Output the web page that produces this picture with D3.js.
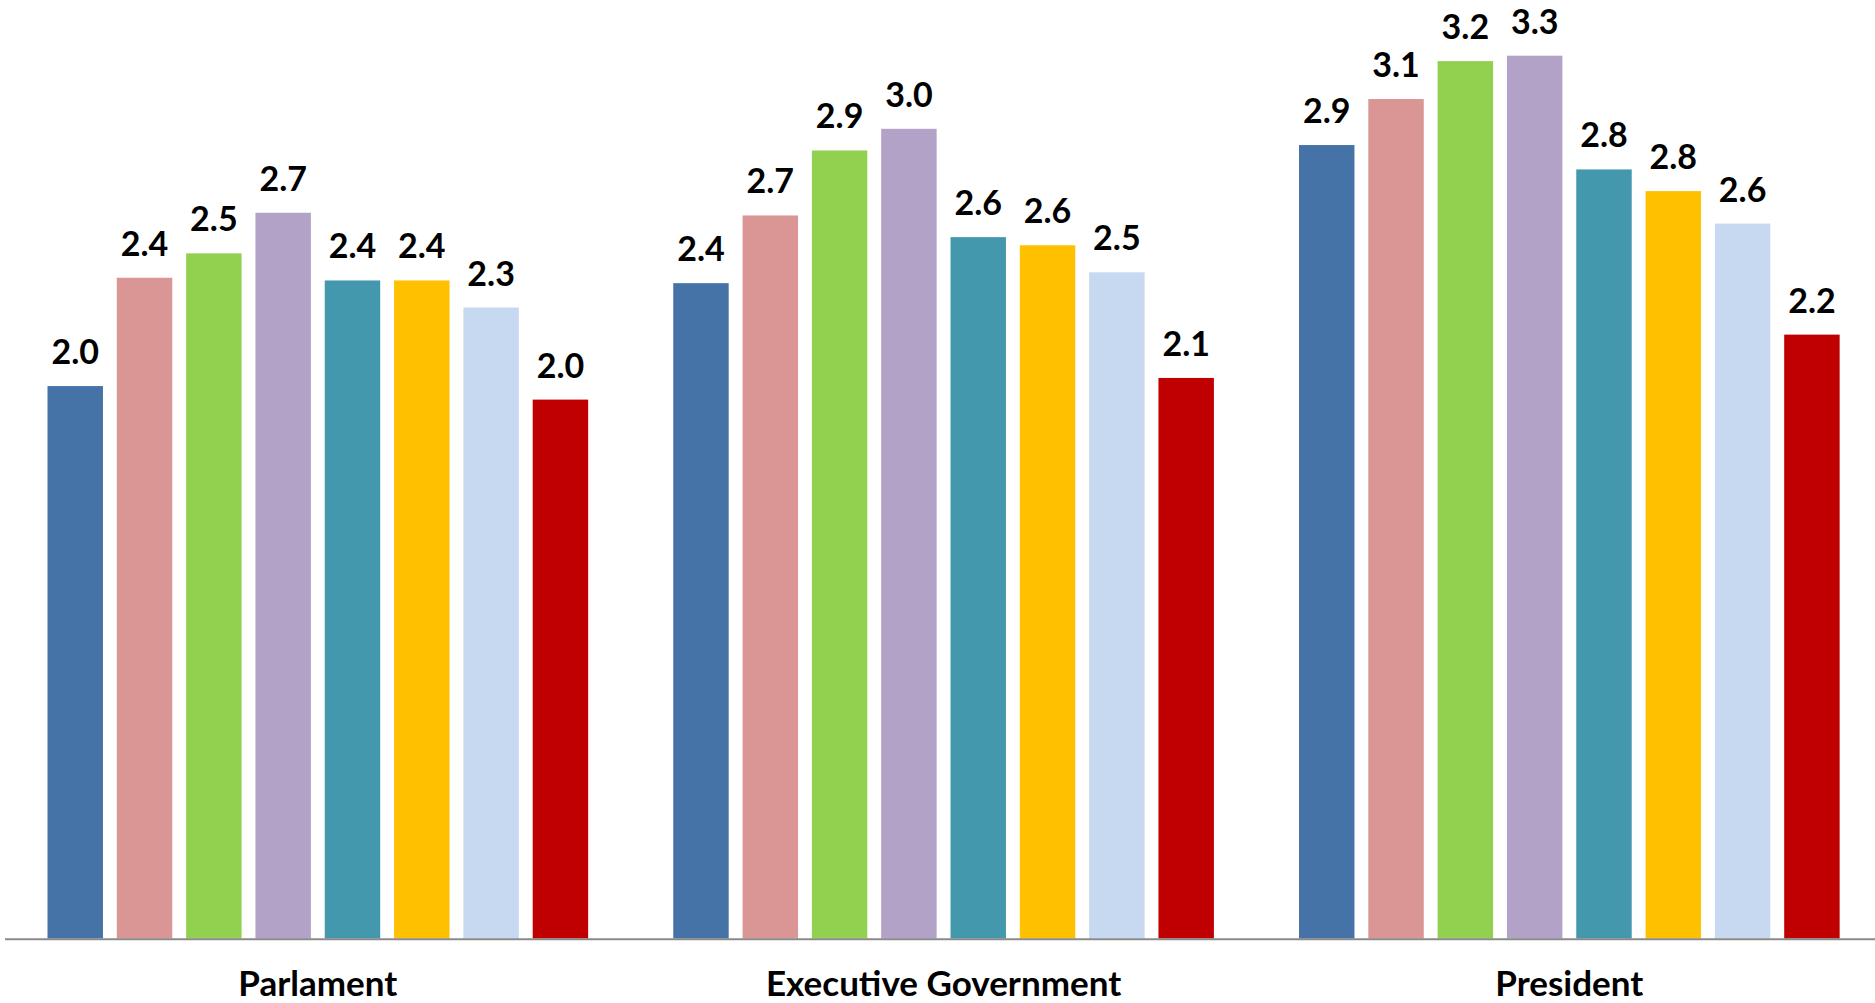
<!DOCTYPE html>
<html>
<head>
<meta charset="utf-8">
<script src="https://cdn.jsdelivr.net/npm/d3@7"></script>
<style>
  html, body { margin: 0; padding: 0; background: #ffffff; }
  svg { display: block; }
</style>
</head>
<body>
<svg id="chart" width="1875" height="1003"></svg>
<script>
const categories = ["Parlament", "Executive Government", "President"];
const seriesNames = ["S1", "S2", "S3", "S4", "S5", "S6", "S7", "S8"];
const seriesColors = ["#4673A7", "#DA9694", "#92D050", "#B2A2C7", "#4398AE", "#FFC000", "#C6D9F1", "#C00000"];
const parlamentValues = [2.04, 2.44, 2.53, 2.68, 2.43, 2.43, 2.33, 1.99];
const executiveValues = [2.42, 2.67, 2.91, 2.99, 2.59, 2.56, 2.46, 2.07];
const presidentValues = [2.93, 3.10, 3.24, 3.26, 2.84, 2.76, 2.64, 2.23];

const groups = [
  { category: categories[0], values: parlamentValues },
  { category: categories[1], values: executiveValues },
  { category: categories[2], values: presidentValues }
];

const svg = d3.select("#chart");
const baseline = 938.5;
const fontFamily = "Lato, 'Open Sans', sans-serif";

const x0 = d3.scaleBand()
  .domain(categories)
  .range([4.95, 1882.2])
  .paddingInner(0.136)
  .paddingOuter(0.068);

const x1 = d3.scaleBand()
  .domain(seriesNames)
  .range([0, x0.bandwidth()])
  .paddingInner(0.2)
  .paddingOuter(0);

const y = d3.scaleLinear()
  .domain([0, 3.5])
  .range([baseline, baseline - 3.5 * 270.8]);

const color = d3.scaleOrdinal().domain(seriesNames).range(seriesColors);
const fmt = d3.format(".1f");

const g = svg.selectAll("g.group")
  .data(groups)
  .join("g")
  .attr("class", "group")
  .attr("transform", d => `translate(${x0(d.category)},0)`);

const items = g.selectAll("g.item")
  .data(d => d.values.map((v, i) => ({ key: seriesNames[i], value: v })))
  .join("g")
  .attr("class", "item");

items.append("rect")
  .attr("x", d => x1(d.key))
  .attr("y", d => y(d.value))
  .attr("width", x1.bandwidth())
  .attr("height", d => baseline - y(d.value))
  .attr("fill", d => color(d.key));

items.append("text")
  .attr("x", d => x1(d.key) + x1.bandwidth() / 2)
  .attr("y", d => y(d.value) - 22)
  .attr("text-anchor", "middle")
  .attr("font-family", fontFamily)
  .attr("font-weight", "bold")
  .attr("font-size", 34)
  .attr("fill", "#000000")
  .text(d => fmt(d.value));

// axis
const xAxis = d3.axisBottom(x0).tickSize(0).tickPadding(0);
const axisG = svg.append("g")
  .attr("transform", `translate(0,${baseline})`)
  .call(xAxis);
axisG.select(".domain")
  .attr("d", `M5,0.75H1875`)
  .attr("stroke", "#8a8a8a")
  .attr("stroke-width", 2);
axisG.selectAll(".tick text")
  .attr("y", 57.5)
  .attr("dy", 0)
  .attr("font-family", fontFamily)
  .attr("font-weight", "bold")
  .attr("font-size", 35)
  .attr("fill", "#000000");
</script>
</body>
</html>
